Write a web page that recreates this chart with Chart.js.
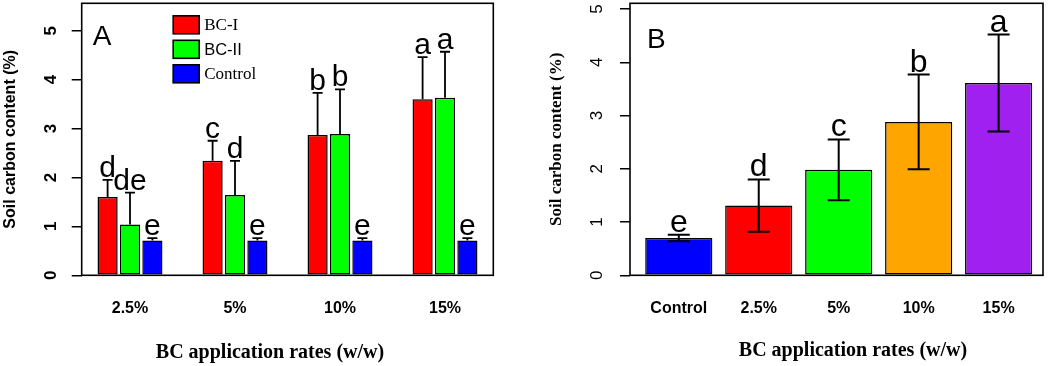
<!DOCTYPE html>
<html>
<head>
<meta charset="utf-8">
<script src="https://cdn.jsdelivr.net/npm/chart.js"></script>
<style>
    body { margin: 0; background: #fff; }
    #wrap { display: flex; width: 1052px; height: 366px; }
    canvas { display: block; }
</style>
</head>
<body>
<div id="wrap">
    <canvas id="chartA" width="526" height="366"></canvas>
    <canvas id="chartB" width="526" height="366"></canvas>
</div>
<script>
// panel A: grouped bars, upper error bars only
const ratesA = ["2.5%", "5%", "10%", "15%"];
const bc1Mean = [1.6, 2.34, 2.87, 3.6];
const bc1Err = [0.35, 0.41, 0.86, 0.86];
const bc1Letters = ["d", "c", "b", "a"];
const bc2Mean = [1.04, 1.64, 2.89, 3.63];
const bc2Err = [0.65, 0.7, 0.91, 0.94];
const bc2Letters = ["de", "d", "b", "a"];
const ctrlMean = [0.71, 0.71, 0.71, 0.71];
const ctrlErr = [0.05, 0.05, 0.05, 0.05];
const ctrlLetters = ["e", "e", "e", "e"];

// panel B: one bar per treatment, error bars both ways
const ratesB = ["Control", "2.5%", "5%", "10%", "15%"];
const meanB = [0.7, 1.31, 1.98, 2.88, 3.61];
const errB = [0.06, 0.49, 0.57, 0.89, 0.91];
const lettersB = ["e", "d", "c", "b", "a"];

const yTicks = [0, 1, 2, 3, 4, 5];

const SANS = "'Liberation Sans', Arial, sans-serif";
const SERIF = "'Liberation Serif', 'Times New Roman', serif";

// bars sit on a linear x axis at 0, 1, 2 ... so the R-like side margins can be kept
const toPoints = (arr) => arr.map((v, i) => ({ x: i, y: v }));

// draws frame, error bars, letters, rotated y labels and titles
const decorPlugin = {
    id: "decor",
    afterDatasetsDraw(chart) {
        let o = chart.options.plugins.decor;
        let ctx = chart.ctx;
        let a = chart.chartArea;
        let y = chart.scales.y;
        ctx.save();

        // error bars + letters
        o.errors.forEach((errArr, d) => {
            let meta = chart.getDatasetMeta(d);
            let vals = chart.data.datasets[d].data;
            meta.data.forEach((bar, i) => {
                let v = vals[i].y;
                let top = y.getPixelForValue(v + errArr[i]);
                let low = o.bothWays ? y.getPixelForValue(v - errArr[i]) : bar.y;
                ctx.strokeStyle = "#000";
                ctx.lineWidth = o.errWidth;
                ctx.beginPath();
                ctx.moveTo(bar.x, low);
                ctx.lineTo(bar.x, top);
                ctx.moveTo(bar.x - o.cap, top);
                ctx.lineTo(bar.x + o.cap, top);
                if (o.bothWays) {
                    ctx.moveTo(bar.x - o.cap, low);
                    ctx.lineTo(bar.x + o.cap, low);
                }
                ctx.stroke();
                ctx.fillStyle = "#000";
                ctx.font = o.letterFont;
                ctx.textAlign = "center";
                ctx.textBaseline = "alphabetic";
                ctx.fillText(o.letters[d][i], bar.x, top - 3);
            });
        });

        // frame
        ctx.strokeStyle = "#000";
        ctx.lineWidth = 1.6;
        ctx.strokeRect(a.left, a.top, a.right - a.left, a.bottom - a.top);

        // y tick labels, rotated like R does
        ctx.font = o.tickFont;
        ctx.fillStyle = "#000";
        ctx.textAlign = "center";
        ctx.textBaseline = "middle";
        yTicks.forEach((t) => {
            ctx.save();
            ctx.translate(a.left - o.tickLabelGap, y.getPixelForValue(t));
            ctx.rotate(-Math.PI / 2);
            ctx.fillText(String(t), 0, 0);
            ctx.restore();
        });

        // y title
        ctx.save();
        ctx.translate(o.yTitleX, (a.top + a.bottom) / 2);
        ctx.rotate(-Math.PI / 2);
        ctx.font = o.yTitleFont;
        ctx.fillText("Soil carbon content (%)", 0, 0);
        ctx.restore();

        // x title
        ctx.font = "bold 20px " + SERIF;
        ctx.fillText("BC application rates (w/w)", o.xTitleX, o.xTitleY);

        // panel letter
        ctx.font = "28px " + SANS;
        ctx.textAlign = "left";
        ctx.textBaseline = "alphabetic";
        ctx.fillText(o.panel, a.left + o.panelDx, a.top + o.panelDy);

        // legend (panel A only)
        if (o.legend) {
            o.legend.forEach((item, k) => {
                let by = a.top + 12.5 + k * 24.5;
                ctx.fillStyle = item.color;
                ctx.fillRect(a.left + 91.5, by, 26, 18);
                ctx.strokeStyle = "#000";
                ctx.lineWidth = 1.6;
                ctx.strokeRect(a.left + 91.5, by, 26, 18);
                ctx.fillStyle = "#000";
                ctx.font = item.font;
                ctx.textBaseline = "middle";
                ctx.fillText(item.text, a.left + 122.5, by + 10);
            });
        }
        ctx.restore();
    },
};

const yScale = (max, width) => ({
    min: 0,
    max: max,
    afterFit: (s) => { s.width = width; },
    afterBuildTicks: (s) => { s.ticks = yTicks.map((v) => ({ value: v })); },
    ticks: { display: false },
    grid: {
        display: true,
        drawOnChartArea: false,
        drawTicks: true,
        tickLength: 10,
        color: "#000",
        lineWidth: 1.5,
    },
    border: { display: false },
});

const xScale = (names, min, max) => ({
    type: "linear",
    min: min,
    max: max,
    offset: false,
    afterFit: (s) => { s.height = 90.7; },
    afterBuildTicks: (s) => { s.ticks = names.map((n, i) => ({ value: i })); },
    grid: { display: false, drawTicks: false, offset: false },
    border: { display: false },
    ticks: {
        color: "#000",
        font: { family: SANS, size: 16, weight: "bold" },
        padding: 24,
        maxRotation: 0,
        autoSkip: false,
        callback: (v) => names[v],
    },
});

const barBase = {
    borderColor: "#000",
    borderWidth: 1.5,
    borderSkipped: false,
};

const chartA = new Chart(document.getElementById("chartA"), {
    type: "bar",
    data: {
        datasets: [
            { ...barBase, label: "BC-I", data: toPoints(bc1Mean), backgroundColor: "#ff0000" },
            { ...barBase, label: "BC-II", data: toPoints(bc2Mean), backgroundColor: "#00ff00" },
            { ...barBase, label: "Control", data: toPoints(ctrlMean), backgroundColor: "#0000ff" },
        ],
    },
    options: {
        responsive: false,
        animation: false,
        devicePixelRatio: 1,
        categoryPercentage: 0.64,
        barPercentage: 0.9,
        layout: { padding: { left: 0, right: 32.7, top: 3.3, bottom: 0 } },
        scales: { x: xScale(ratesA, -0.46, 3.46), y: yScale(5.56, 81.7) },
        plugins: {
            legend: { display: false },
            tooltip: { enabled: false },
            decor: {
                errors: [bc1Err, bc2Err, ctrlErr],
                letters: [bc1Letters, bc2Letters, ctrlLetters],
                bothWays: false,
                cap: 5,
                errWidth: 1.8,
                letterFont: "30px " + SANS,
                tickFont: "bold 17px " + SANS,
                tickLabelGap: 30,
                yTitleX: 11,
                yTitleFont: "bold 16px " + SANS,
                xTitleX: 270,
                xTitleY: 353,
                panel: "A",
                panelDx: 11,
                panelDy: 42,
                legend: [
                    { text: "BC-I", color: "#ff0000", font: "17px " + SERIF },
                    { text: "BC-II", color: "#00ff00", font: "16.5px " + SANS },
                    { text: "Control", color: "#0000ff", font: "17px " + SERIF },
                ],
            },
        },
    },
    plugins: [decorPlugin],
});

const chartB = new Chart(document.getElementById("chartB"), {
    type: "bar",
    data: {
        datasets: [
            {
                ...barBase,
                label: "Soil carbon",
                data: toPoints(meanB),
                backgroundColor: ["#0000ff", "#ff0000", "#00ff00", "#ffa500", "#a020f0"],
            },
        ],
    },
    options: {
        responsive: false,
        animation: false,
        devicePixelRatio: 1,
        categoryPercentage: 1,
        barPercentage: 0.84,
        layout: { padding: { left: 0, right: 9, top: 3.3, bottom: 0 } },
        scales: { x: xScale(ratesB, -0.61, 4.555), y: yScale(5.107, 104) },
        plugins: {
            legend: { display: false },
            tooltip: { enabled: false },
            decor: {
                errors: [errB],
                letters: [lettersB],
                bothWays: true,
                cap: 11,
                errWidth: 2,
                letterFont: "32px " + SANS,
                tickFont: "17px " + SANS,
                tickLabelGap: 32.5,
                yTitleX: 31,
                yTitleFont: "bold 17px " + SERIF,
                xTitleX: 327,
                xTitleY: 351,
                panel: "B",
                panelDx: 17,
                panelDy: 45,
                legend: null,
            },
        },
    },
    plugins: [decorPlugin],
});
</script>
</body>
</html>
